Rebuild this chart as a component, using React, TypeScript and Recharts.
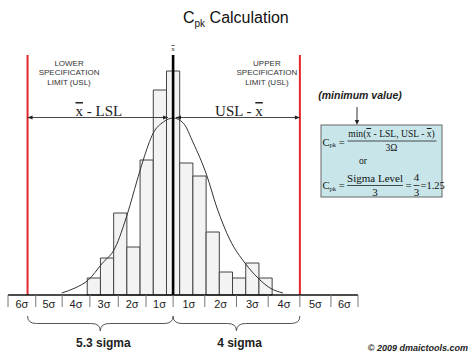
import React from 'react';
import { ComposedChart, Line, XAxis, YAxis, ReferenceLine, ReferenceArea } from 'recharts';

// histogram bins (bin width = 1 unit) and their counts
const binStarts = [6, 7, 8, 9, 10, 11, 12, 13, 14, 15, 16, 17, 18, 19];
const binCounts = [17, 37, 82, 48, 135, 205, 224, 132, 119, 63, 23, 17, 32, 17];
const BIN_WIDTH = 1;

// fitted normal curve
const curveX = [4.07, 5.07, 6.08, 7.09, 8.1, 9.06, 9.74, 10.24, 11.0, 11.76, 12.52, 13.27, 14.03, 15.04, 15.8, 16.81, 17.94, 18.93, 19.84, 20.82];
const curveY = [2, 7, 15, 31, 47, 82, 113, 135, 162, 173, 177, 172, 152, 120, 88, 55, 32, 17, 7, 2];

// sigma scale along the bottom
const sigmaTicks = [0, 2.1, 4.1, 6.2, 8.35, 10.45, 12.5, 14.9, 17.3, 19.7, 22.1, 24.45, 26.5];
const sigmaLabels = ['6σ', '5σ', '4σ', '3σ', '2σ', '1σ', '1σ', '2σ', '3σ', '4σ', '5σ', '6σ'];

const MEAN = 12.5;
const LSL = 1.48;
const USL = 22.1;
const PEAK = 177.5;
const X_MAX = 26.5;
const Y_MAX = 240;

const SANS = '"Liberation Sans", Arial, sans-serif';
const SERIF = '"Liberation Serif", "Times New Roman", serif';
const RED = '#e3262b';

const curveData = curveX.map((x, i) => ({ x, fit: curveY[i] }));
const labelTicks = sigmaLabels.map((_, i) => (sigmaTicks[i] + sigmaTicks[i + 1]) / 2);

const Xbar = () => <tspan style={{ textDecoration: 'overline' }}>x</tspan>;

const SpecLabel = ({ cx, y, lines }: { cx: number; y: number; lines: string[] }) => (
    <text x={cx} y={y} textAnchor="middle" fontFamily={SANS} fontSize={8} fill="#333">
        {lines.map((l, i) => (
            <tspan key={i} x={cx} dy={i === 0 ? 0 : 9.7}>{l}</tspan>
        ))}
    </text>
);

const specLine = (side: 'lower' | 'upper') => (p: any) => {
    const top = Math.min(p.y1, p.y2);
    const bot = Math.max(p.y1, p.y2);
    const lines = side === 'lower'
        ? ['LOWER', 'SPECIFICATION', 'LIMIT (USL)']
        : ['UPPER', 'SPECIFICATION', 'LIMIT (USL)'];
    return (
        <g>
            <line x1={p.x1} x2={p.x2} y1={top} y2={bot} stroke={RED} strokeWidth={2} />
            <SpecLabel cx={side === 'lower' ? p.x1 + 41.5 : p.x1 - 33} y={top + 10.5} lines={lines} />
        </g>
    );
};

const meanLine = (p: any) => {
    const top = Math.min(p.y1, p.y2);
    const bot = Math.max(p.y1, p.y2);
    return (
        <g>
            <line x1={p.x1} x2={p.x2} y1={top} y2={bot} stroke="#000" strokeWidth={2.6} />
            <text x={p.x1} y={top - 4} textAnchor="middle" fontFamily={SERIF} fontSize={7} fill="#333">
                <Xbar />
            </text>
        </g>
    );
};

const arrow = (label: React.ReactNode) => (p: any) => {
    const y = p.y1;
    const a = 5;
    return (
        <g>
            <line x1={p.x1} x2={p.x2} y1={y} y2={y} stroke="#333" strokeWidth={0.9} />
            <polygon points={`${p.x1},${y} ${p.x1 + a},${y - 2} ${p.x1 + a},${y + 2}`} fill="#222" />
            <polygon points={`${p.x2},${y} ${p.x2 - a},${y - 2} ${p.x2 - a},${y + 2}`} fill="#222" />
            <text x={(p.x1 + p.x2) / 2 + 1} y={y - 1.5} textAnchor="middle" fontFamily={SERIF} fontSize={15} fill="#222">
                {label}
            </text>
        </g>
    );
};

const brace = (label: string) => (p: any) => {
    const x1 = p.x1;
    const x2 = p.x2;
    const xm = (x1 + x2) / 2;
    const y0 = p.y1 + 21;
    const h = 15;
    const r = 9;
    const d = `M${x1},${y0} Q${x1},${y0 + h / 2} ${x1 + r},${y0 + h / 2} L${xm - r},${y0 + h / 2} Q${xm},${y0 + h / 2} ${xm},${y0 + h}`
        + ` Q${xm},${y0 + h / 2} ${xm + r},${y0 + h / 2} L${x2 - r},${y0 + h / 2} Q${x2},${y0 + h / 2} ${x2},${y0}`;
    return (
        <g>
            <path d={d} fill="none" stroke="#555" strokeWidth={1} />
            <text x={xm + 3} y={y0 + 31} textAnchor="middle" fontFamily={SANS} fontSize={12} fontWeight="bold" fill="#222">
                {label}
            </text>
        </g>
    );
};

const SigmaTick = (p: any) => (
    <text x={p.x} y={p.y} dy="0.71em" textAnchor="middle" fontFamily={SANS} fontSize={11} fill="#222">
        {sigmaLabels[p.index]}
    </text>
);

const EmptyTick = () => <g />;

export default function App() {
    return (
        <div style={{ position: 'relative', width: 474, height: 355, background: '#fff' }}>
            <style>{'body{margin:0}'}</style>
            <ComposedChart
                width={474}
                height={355}
                data={curveData}
                margin={{ top: 55, right: 116, bottom: 29, left: 8 }}
            >
                <XAxis
                    dataKey="x"
                    type="number"
                    domain={[0, X_MAX]}
                    allowDataOverflow
                    ticks={sigmaTicks}
                    interval={0}
                    tick={<EmptyTick />}
                    tickSize={12}
                    tickLine={{ stroke: '#777', strokeWidth: 1 }}
                    axisLine={{ stroke: '#111', strokeWidth: 1.5 }}
                    height={1}
                />
                <XAxis
                    xAxisId="lbl"
                    dataKey="x"
                    type="number"
                    domain={[0, X_MAX]}
                    allowDataOverflow
                    ticks={labelTicks}
                    interval={0}
                    tick={<SigmaTick />}
                    tickSize={2}
                    tickMargin={2}
                    tickLine={false}
                    axisLine={false}
                    height={30}
                />
                <YAxis hide domain={[0, Y_MAX]} allowDataOverflow />
                {binStarts.map((x0, i) => (
                    <ReferenceArea
                        key={x0}
                        x1={x0}
                        x2={x0 + BIN_WIDTH}
                        y1={0}
                        y2={binCounts[i]}
                        fill="#f3f3f3"
                        fillOpacity={1}
                        stroke="#444"
                        strokeWidth={1}
                        strokeOpacity={1}
                    />
                ))}
                <Line
                    dataKey="fit"
                    type="monotone"
                    stroke="#333"
                    strokeWidth={1}
                    dot={false}
                    isAnimationActive={false}
                />
                <ReferenceLine x={LSL} ifOverflow="visible" shape={specLine('lower')} />
                <ReferenceLine x={USL} ifOverflow="visible" shape={specLine('upper')} />
                <ReferenceLine x={MEAN} ifOverflow="visible" shape={meanLine} />
                <ReferenceLine
                    segment={[{ x: LSL, y: PEAK }, { x: MEAN - 0.38, y: PEAK }]}
                    ifOverflow="visible"
                    shape={arrow(<><Xbar /> - LSL</>)}
                />
                <ReferenceLine
                    segment={[{ x: MEAN + 0.22, y: PEAK }, { x: USL, y: PEAK }]}
                    ifOverflow="visible"
                    shape={arrow(<>USL - <Xbar /></>)}
                />
                <ReferenceLine
                    segment={[{ x: LSL, y: 0 }, { x: MEAN, y: 0 }]}
                    ifOverflow="visible"
                    shape={brace('5.3 sigma')}
                />
                <ReferenceLine
                    segment={[{ x: MEAN, y: 0 }, { x: USL, y: 0 }]}
                    ifOverflow="visible"
                    shape={brace('4 sigma')}
                />
            </ComposedChart>

            <svg width={474} height={355} style={{ position: 'absolute', left: 0, top: 0, pointerEvents: 'none' }}>
                <text x={183} y={23} fontFamily={SANS} fontSize={16} fill="#111">
                    C<tspan fontSize={10} dy={4}>pk</tspan><tspan dy={-4}> Calculation</tspan>
                </text>

                <text x={360} y={99} textAnchor="middle" fontFamily={SANS} fontSize={10.5} fontWeight="bold" fontStyle="italic" fill="#222">
                    (minimum value)
                </text>
                <line x1={357} x2={357} y1={107} y2={121} stroke="#333" strokeWidth={1} />
                <polygon points="357,125 354.8,120 359.2,120" fill="#222" />

                <rect x={321} y={125} width={121} height={72} fill="#c8e6ea" stroke="#666" strokeWidth={1} />
                <g fontFamily={SERIF} fill="#111">
                    <text x={322.5} y={145.5} fontSize={10.5}>
                        C<tspan fontSize={6.5} dy={1.5}>pk</tspan><tspan dy={-1.5}> =</tspan>
                    </text>
                    <text x={391.5} y={137} textAnchor="middle" fontSize={9.6}>
                        min(<Xbar /> - LSL, USL - <Xbar />)
                    </text>
                    <line x1={347.5} x2={436.5} y1={141} y2={141} stroke="#222" strokeWidth={0.8} />
                    <text x={391.5} y={150.5} textAnchor="middle" fontSize={9.6}>3Ω</text>
                    <text x={363} y={164} textAnchor="middle" fontSize={9.6}>or</text>
                    <text x={322.5} y={189} fontSize={10.5}>
                        C<tspan fontSize={6.5} dy={1.5}>pk</tspan><tspan dy={-1.5}> =</tspan>
                    </text>
                    <text x={375} y={181.5} textAnchor="middle" fontSize={11}>Sigma Level</text>
                    <line x1={347} x2={403} y1={185.5} y2={185.5} stroke="#222" strokeWidth={0.8} />
                    <text x={375} y={195.5} textAnchor="middle" fontSize={11}>3</text>
                    <text x={405.5} y={189} fontSize={11}>=</text>
                    <text x={416.5} y={181} textAnchor="middle" fontSize={11}>4</text>
                    <line x1={413.5} x2={419.5} y1={185.5} y2={185.5} stroke="#222" strokeWidth={0.8} />
                    <text x={416.5} y={195.5} textAnchor="middle" fontSize={11}>3</text>
                    <text x={420.5} y={189} fontSize={10.5}>=1.25</text>
                </g>

                <text x={468} y={351} textAnchor="end" fontFamily={SANS} fontSize={9} fontWeight="bold" fontStyle="italic" fill="#222">
                    © 2009 dmaictools.com
                </text>
            </svg>
        </div>
    );
}
